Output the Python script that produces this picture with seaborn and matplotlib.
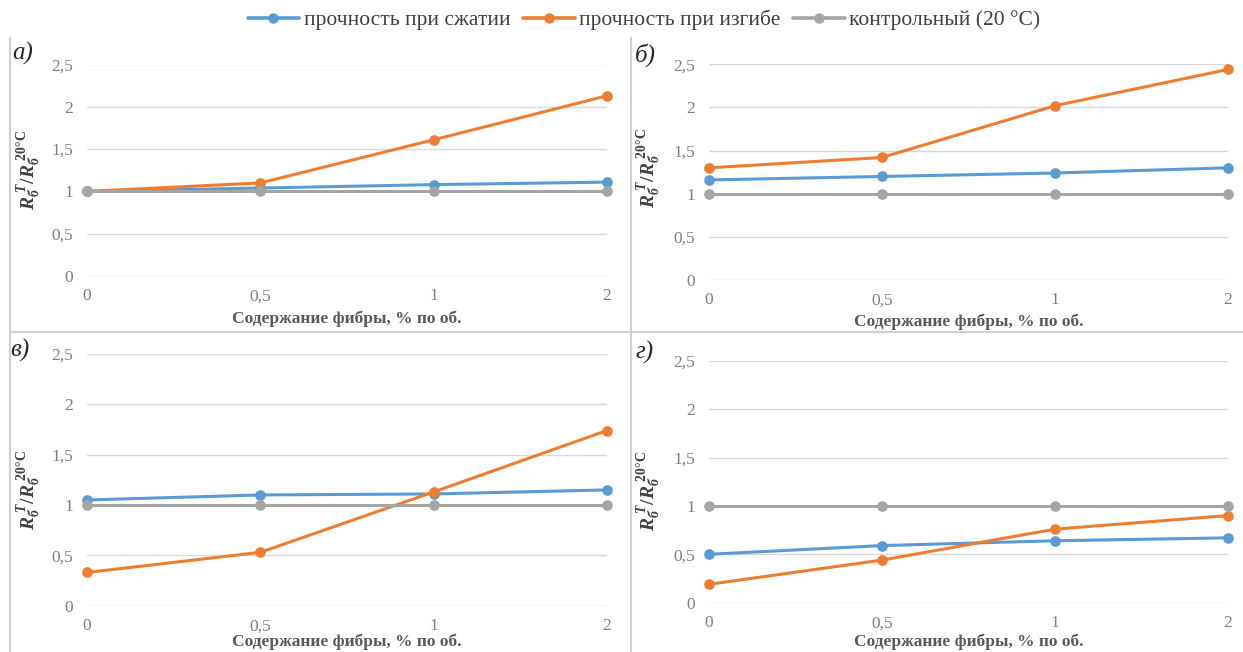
import matplotlib
matplotlib.use("Agg")
import matplotlib.pyplot as plt
from matplotlib.lines import Line2D
import seaborn as sns
import pandas as pd

# ---------------- data ----------------
fiber = ['0', '0,5', '1', '2']
series_names = ['прочность при сжатии', 'прочность при изгибе', 'контрольный (20 °C)']
colors = ['#5B9BD5', '#ED7D31', '#A5A5A5']
y_ticks = [0, 0.5, 1, 1.5, 2, 2.5]
y_tick_labels = ['0', '0,5', '1', '1,5', '2', '2,5']

a_compr = [1.00, 1.04, 1.08, 1.11]
a_bend = [1.00, 1.10, 1.61, 2.13]
a_ctrl = [1.00, 1.00, 1.00, 1.00]

b_compr = [1.16, 1.20, 1.24, 1.30]
b_bend = [1.30, 1.42, 2.02, 2.44]
b_ctrl = [1.00, 1.00, 1.00, 1.00]

c_compr = [1.05, 1.10, 1.11, 1.15]
c_bend = [0.33, 0.53, 1.13, 1.74]
c_ctrl = [1.00, 1.00, 1.00, 1.00]

d_compr = [0.50, 0.59, 0.64, 0.67]
d_bend = [0.19, 0.44, 0.76, 0.90]
d_ctrl = [1.00, 1.00, 1.00, 1.00]

panel_letters = ['a)', 'б)', 'в)', 'г)']
x_label = 'Содержание фибры, % по об.'
y_label = r'$R_{б}^{\ T}/R_{б}^{\ \mathrm{20°C}}$'

# ---------------- style ----------------
sns.set_style('white')
plt.rcParams['font.family'] = ['Liberation Serif', 'DejaVu Serif']
plt.rcParams['mathtext.fontset'] = 'custom'
plt.rcParams['mathtext.it'] = 'Liberation Serif:italic:bold'
plt.rcParams['mathtext.rm'] = 'Liberation Serif:bold'
plt.rcParams['mathtext.bf'] = 'Liberation Serif:bold'

W, H = 1243, 652
fig = plt.figure(figsize=(W / 100, H / 100), dpi=100)


def px_axes(x0, x1, y_top, y_bot):
    return [x0 / W, 1 - y_bot / H, (x1 - x0) / W, (y_bot - y_top) / H]


panels = [
    (px_axes(87, 607, 64.5, 276), (a_compr, a_bend, a_ctrl), (-0.085, 0.5), -0.165, (12, 53)),
    (px_axes(709, 1228, 64.3, 280), (b_compr, b_bend, b_ctrl), (-0.088, 0.52), -0.153, (635, 55)),
    (px_axes(87, 607, 354, 605.7), (c_compr, c_bend, c_ctrl), (-0.085, 0.46), -0.112, (10, 350)),
    (px_axes(709, 1228, 360.7, 602.7), (d_compr, d_bend, d_ctrl), (-0.088, 0.46), -0.129, (635, 352)),
]

for i, (rect, vals, ylab_pos, xlab_y, letter_pos) in enumerate(panels):
    ax = fig.add_axes(rect)
    rows = []
    for name, v in zip(series_names, vals):
        for xv, yv in zip(fiber, v):
            rows.append({'fiber': xv, 'value': yv, 'series': name})
    df = pd.DataFrame(rows)
    sns.pointplot(data=df, x='fiber', y='value', hue='series', order=fiber,
                  hue_order=series_names, palette=colors, errorbar=None,
                  markers='o', linestyles='-', ax=ax, legend=False,
                  linewidth=2.2, markersize=6, clip_on=False)
    ax.set_xlim(0, len(fiber) - 1)
    ax.set_ylim(0, 2.5)
    ax.set_yticks(y_ticks)
    ax.set_yticklabels(y_tick_labels)
    ax.grid(True, axis='y', color='#D9D9D9', linewidth=1.0)
    ax.grid(False, axis='x')
    ax.set_axisbelow(True)
    for s in ax.spines.values():
        s.set_visible(False)
    ax.tick_params(axis='both', length=0, labelsize=12.5, colors='#7F7F7F')
    ax.tick_params(axis='x', pad=9)
    ax.tick_params(axis='y', pad=10)
    ax.set_xlabel(x_label, fontsize=12.5, fontweight='bold', color='#595959')
    ax.xaxis.set_label_coords(0.5, xlab_y)
    ax.set_ylabel(y_label, fontsize=14, color='#404040')
    ax.yaxis.set_label_coords(*ylab_pos)
    fig.text(letter_pos[0] / W, 1 - letter_pos[1] / H, panel_letters[i],
             fontsize=18, style='italic', color='#262626', va='center', ha='left')

# panel borders
border = '#D0D0D0'
fig.add_artist(Line2D([10 / W, 10 / W], [0, 1 - 38 / H], color=border, lw=1.5))
fig.add_artist(Line2D([631 / W, 631 / W], [0, 1 - 38 / H], color=border, lw=1.5))
fig.add_artist(Line2D([10 / W, 1], [1 - 332 / H, 1 - 332 / H], color=border, lw=1.5))

handles = [Line2D([0], [0], color=c, lw=2.6, marker='o', markersize=6.5) for c in colors]
fig.legend(handles, series_names, loc='center', bbox_to_anchor=(644 / W, 1 - 20 / H),
           ncol=3, frameon=False, fontsize=15.5, handlelength=2.4, handletextpad=0.2,
           columnspacing=0.6, labelcolor='#404040')

fig.savefig('out.png', dpi=100)
